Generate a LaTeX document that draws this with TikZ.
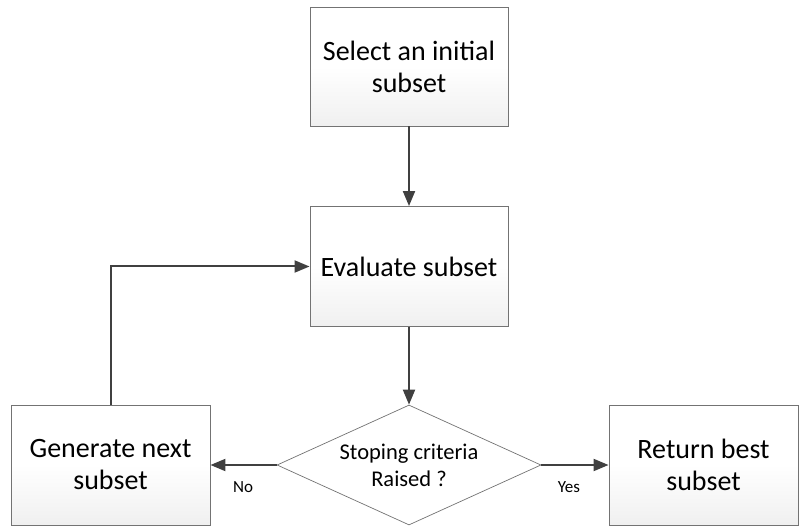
\documentclass[tikz,border=0pt]{standalone}
\usepackage{fontspec}
\setmainfont{Carlito}
\usetikzlibrary{arrows.meta,shapes.geometric}
\begin{document}
\begin{tikzpicture}[x=1pt,y=-1pt,
  box/.style={draw=black!55, line width=0.9pt, top color=white, bottom color=black!6, middle color=white, shading angle=0, align=center, font=\fontsize{28}{32}\selectfont, inner sep=0pt},
  dec/.style={draw=black!55, line width=0.7pt, fill=white, diamond, aspect=2.1667, align=center, font=\fontsize{22.5}{27}\selectfont, inner sep=0pt},
  conn/.style={draw=black!75, line width=2pt, -{Triangle[length=15pt,width=12pt]}},
  lbl/.style={font=\fontsize{17}{20}\selectfont}]
\useasboundingbox (0,0) rectangle (800,526);
\node[box, minimum width=198pt, minimum height=119pt] (sel) at (409,66.5) {Select an initial\\subset};
\node[box, minimum width=198pt, minimum height=120pt] (eval) at (409,266.5) {Evaluate subset};
\node[dec, minimum width=264pt, minimum height=120pt] (stop) at (409,465) {Stoping criteria\\Raised ?};
\node[box, minimum width=199pt, minimum height=120pt] (gen) at (110.5,465) {Generate next\\subset};
\node[box, minimum width=189pt, minimum height=120pt] (ret) at (703.5,465) {Return best\\subset};
\draw[conn] (sel.south) -- (eval.north);
\draw[conn] (eval.south) -- (stop.north);
\draw[conn] (stop.west) -- (gen.east);
\draw[conn] (stop.east) -- (ret.west);
\draw[conn] (gen.north) |- (eval.west);
\node[lbl] (no) at (243,487) {No};
\node[lbl] (yes) at (569,487) {Yes};
\end{tikzpicture}
\end{document}
